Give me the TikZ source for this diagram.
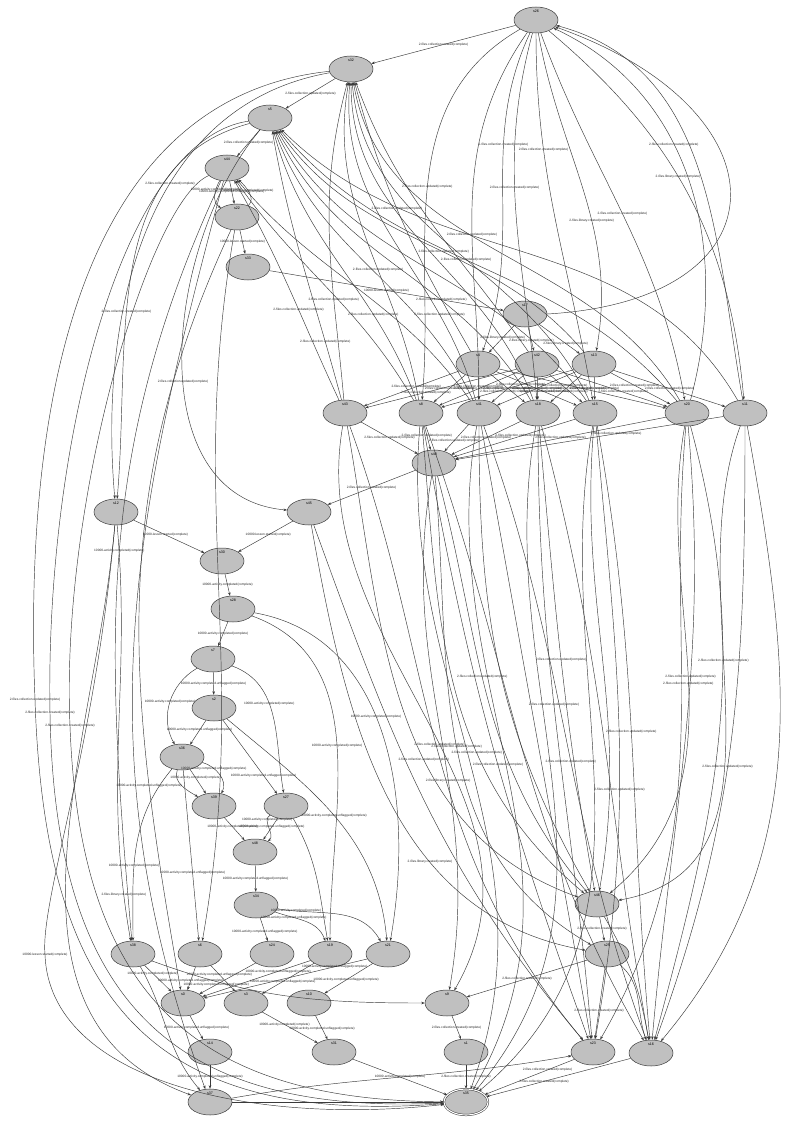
\documentclass[tikz,border=0pt]{standalone}
\usepackage{fontspec}
\setmainfont{Liberation Sans}
\usepackage{tikz}
\usetikzlibrary{arrows.meta,shapes.geometric}
\definecolor{stFill}{HTML}{C0C0C0}
\definecolor{stLine}{HTML}{3A3A3A}
\newcommand{\lcc}{2-files.collection.created(complete)}
\newcommand{\lcu}{2-files.collection.updated(complete)}
\newcommand{\llc}{2-files.library.created(complete)}
\newcommand{\lls}{10000-lesson.started(complete)}
\newcommand{\lac}{10000-activity.completed(complete)}
\newcommand{\lau}{10000-activity.completed.unflagged(complete)}
\tikzset{
  nlab/.style={anchor=north,yshift=-2.5pt,inner sep=0.4pt,font=\fontsize{3.6}{4}\selectfont},
  st/.style={ellipse,draw=stLine,line width=0.5pt,fill=stFill,minimum width=44pt,
    minimum height=26pt,inner sep=0pt,label={[nlab]north:#1}},
  fin/.style={st=#1,double,double distance=1.1pt},
  e/.style={draw=stLine,line width=0.45pt,-{Stealth[length=3.5pt,width=2.6pt]}},
  lbl/.style={font=\fontsize{3.2}{3.6}\selectfont,inner sep=0.3pt,text=black!85}
}
\begin{document}
\begin{tikzpicture}[x=1pt,y=-1pt]
\fill[white] (0,0) rectangle (805,1126);
\useasboundingbox (0,0) rectangle (805,1126);
\node[st=s26] (s26) at (536,20) {};
\node[st=s32] (s32) at (351,69) {};
\node[st=s5] (s5) at (270,118) {};
\node[st=s44] (s44) at (227,168) {};
\node[st=s22] (s22) at (237,217) {};
\node[st=s33] (s33) at (248,267) {};
\node[st=s17] (s17) at (525,314) {};
\node[st=s4] (s4) at (478,364) {};
\node[st=s42] (s42) at (537,364) {};
\node[st=s13] (s13) at (594,364) {};
\node[st=s43] (s43) at (345,413) {};
\node[st=s8] (s8) at (421,413) {};
\node[st=s41] (s41) at (479,413) {};
\node[st=s18] (s18) at (538,413) {};
\node[st=s15] (s15) at (595,413) {};
\node[st=s20] (s20) at (687,413) {};
\node[st=s11] (s11) at (745,413) {};
\node[st=s40] (s40) at (434,463) {};
\node[st=s12] (s12) at (116,512) {};
\node[st=s45] (s45) at (309,512) {};
\node[st=s30] (s30) at (222,561) {};
\node[st=s28] (s28) at (233,609) {};
\node[st=s7] (s7) at (213,659) {};
\node[st=s2] (s2) at (214,708) {};
\node[st=s36] (s36) at (182,757) {};
\node[st=s39] (s39) at (214,806) {};
\node[st=s27] (s27) at (286,806) {};
\node[st=s48] (s48) at (255,852) {};
\node[st=s34] (s34) at (256,905) {};
\node[st=s46] (s46) at (597,904) {};
\node[st=s38] (s38) at (133,954) {};
\node[st=s6] (s6) at (200,954) {};
\node[st=s24] (s24) at (272,954) {};
\node[st=s19] (s19) at (330,954) {};
\node[st=s21] (s21) at (388,954) {};
\node[st=s25] (s25) at (607,954) {};
\node[st=s0] (s0) at (183,1003) {};
\node[st=s3] (s3) at (246,1003) {};
\node[st=s10] (s10) at (309,1003) {};
\node[st=s9] (s9) at (447,1003) {};
\node[st=s14] (s14) at (210,1052) {};
\node[st=s31] (s31) at (334,1052) {};
\node[st=s1] (s1) at (466,1052) {};
\node[st=s23] (s23) at (593,1052) {};
\node[st=s16] (s16) at (651,1053) {};
\node[st=s37] (s37) at (210,1102) {};
\node[fin=s35] (s35) at (466,1102) {};
% top part
\draw[e] (s26) -- node[lbl]{\lcc} (s32);
\draw[e] (s32) -- node[lbl]{\lcu} (s5);
\draw[e] (s5) -- node[lbl]{\lcc} (s44);
\draw[e] (s44) -- node[lbl,pos=.45]{\lau} (s22);
\draw[e] (s44) to[out=-120,in=150] node[lbl,pos=.3]{\lac} (s22);
\draw[e] (s22) to[out=45,in=-45] node[lbl,pos=.55]{\lac} (s44);
\draw[e] (s22) -- node[lbl]{\lls} (s33);
\draw[e] (s33) -- node[lbl]{\lls} (s17);
\draw[e] (s26) to[out=-150,in=85] node[lbl,pos=.5]{\lcu} (s8);
\draw[e] (s26) to[out=-125,in=90] node[lbl,pos=.58]{\lcu} (s41);
\draw[e] (s26) to[out=-105,in=95] node[lbl,pos=.42]{\lcc} (s18);
\draw[e] (s26) to[out=-90,in=100] node[lbl,pos=.3]{\lcc} (s15);
\draw[e] (s26) to[out=-70,in=100] node[lbl,pos=.5]{\lcc} (s20);
\draw[e] (s26) to[out=-40,in=95] node[lbl,pos=.45]{\llc} (s11);
\draw[e] (s26) to[out=-115,in=70] node[lbl,pos=.35]{\lcc} (s4);
\draw[e] (s26) to[out=-80,in=80] node[lbl,pos=.6]{\llc} (s13);
\draw[e] (s17.east) .. controls (790,300) and (790,110) .. (s26);
\draw[e] (s20) to[out=75,in=-25] node[lbl,pos=.6]{\lcc} (s26);
\draw[e] (s11) to[out=100,in=-15] (s26);
% back to s32, s5, s44
\draw[e] (s43) to[out=95,in=-105] node[lbl,pos=.3]{\lcu} (s32);
\draw[e] (s8) to[out=100,in=-100] node[lbl,pos=.4]{\lcu} (s32);
\draw[e] (s41) to[out=105,in=-95] node[lbl,pos=.25]{\lcu} (s32);
\draw[e] (s18) to[out=110,in=-90] (s32);
\draw[e] (s15) to[out=115,in=-85] node[lbl,pos=.45]{\lcu} (s32);
\draw[e] (s20) to[out=120,in=-80] (s32);
\draw[e] (s4) to[out=120,in=-75] node[lbl,pos=.55]{\lcu} (s32);
\draw[e] (s42) to[out=125,in=-70] (s32);
\draw[e] (s43) to[out=105,in=-80] node[lbl,pos=.2]{\lcu} (s5);
\draw[e] (s8) to[out=110,in=-75] node[lbl,pos=.3]{\lcu} (s5);
\draw[e] (s41) to[out=115,in=-70] (s5);
\draw[e] (s18) to[out=120,in=-65] node[lbl,pos=.35]{\lcu} (s5);
\draw[e] (s15) to[out=125,in=-60] (s5);
\draw[e] (s13) to[out=130,in=-55] node[lbl,pos=.45]{\lcu} (s5);
\draw[e] (s20) to[out=130,in=-50] (s5);
\draw[e] (s11) to[out=120,in=-45] (s5);
\draw[e] (s43) to[out=115,in=-60] node[lbl,pos=.4]{\lcu} (s44);
\draw[e] (s8) to[out=120,in=-55] (s44);
\draw[e] (s41) to[out=125,in=-50] (s44);
% left side
\draw[e] (s32) to[out=-170,in=95] node[lbl,pos=.4]{\lcc} (s12);
\draw[e] (s5) to[out=-165,in=85] node[lbl,pos=.6]{\lcc} (s12);
\draw[e] (s32) .. controls (60,100) and (25,450) .. (35,700) node[lbl]{\lcu} .. controls (45,1000) and (150,1126) .. (s35);
\draw[e] (s5) .. controls (120,140) and (45,450) .. (50,713) node[lbl]{\lcc} .. controls (55,1010) and (180,1115) .. (s35);
\draw[e] (s44) .. controls (150,200) and (60,500) .. (70,726) node[lbl]{\lcc} .. controls (80,1000) and (200,1100) .. (s35);
\draw[e] (s44) to[out=-115,in=95] node[lbl,pos=.5]{\lac} (s38);
\draw[e] (s44) to[out=-105,in=110] (s37);
\draw[e] (s22) to[out=-115,in=100] node[lbl,pos=.75]{\lau} (s0);
\draw[e] (s22) to[out=-100,in=80] (s6);
\draw[e] (s12) .. controls (95,750) and (40,900) .. (45,955) node[lbl]{\lls} .. controls (50,1080) and (250,1126) .. (s35);
\draw[e] (s12) to[out=-95,in=160] (s37);
\draw[e] (s12) to[out=-85,in=100] node[lbl,pos=.9]{\llc} (s38);
\draw[e] (s5) to[out=-130,in=175] node[lbl,pos=.55]{\lcu} (s45);
% middle block
\draw[e] (s17) -- node[lbl,pos=.45]{\llc} (s4);
\draw[e] (s17) -- node[lbl,pos=.55]{\llc} (s42);
\draw[e] (s17) -- node[lbl,pos=.65]{\llc} (s13);
\draw[e] (s4) -- node[lbl,pos=.45]{\lcc} (s43);
\draw[e] (s4) -- node[lbl,pos=.5]{\lcc} (s8);
\draw[e] (s4) -- node[lbl,pos=.4]{\lcc} (s41);
\draw[e] (s4) -- node[lbl,pos=.5]{\lcc} (s18);
\draw[e] (s4) -- node[lbl,pos=.6]{\lcc} (s15);
\draw[e] (s4) -- node[lbl,pos=.5]{\lcc} (s20);
\draw[e] (s42) -- node[lbl,pos=.6]{\lcc} (s43);
\draw[e] (s42) -- node[lbl,pos=.5]{\lcc} (s8);
\draw[e] (s42) -- node[lbl,pos=.6]{\lcc} (s41);
\draw[e] (s42) -- node[lbl,pos=.5]{\lcc} (s18);
\draw[e] (s42) -- node[lbl,pos=.4]{\lcc} (s15);
\draw[e] (s42) -- node[lbl,pos=.6]{\lcc} (s20);
\draw[e] (s13) -- node[lbl,pos=.4]{\lcc} (s8);
\draw[e] (s13) -- node[lbl,pos=.5]{\lcc} (s41);
\draw[e] (s13) -- node[lbl,pos=.6]{\lcc} (s18);
\draw[e] (s13) -- node[lbl,pos=.5]{\lcc} (s15);
\draw[e] (s13) -- node[lbl,pos=.4]{\lcc} (s20);
\draw[e] (s13) -- node[lbl,pos=.5]{\lcc} (s11);
\draw[e] (s43) -- node[lbl]{\lcu} (s40);
\draw[e] (s8) -- node[lbl,pos=.4]{\lcu} (s40);
\draw[e] (s41) -- node[lbl,pos=.6]{\lcu} (s40);
\draw[e] (s18) -- node[lbl,pos=.5]{\lcu} (s40);
\draw[e] (s15) -- node[lbl,pos=.45]{\lcu} (s40);
\draw[e] (s20) -- node[lbl,pos=.5]{\lcu} (s40);
\draw[e] (s11) -- node[lbl,pos=.4]{\lcu} (s40);
\draw[e] (s40) -- node[lbl]{\lcc} (s45);
% activity chain
\draw[e] (s12) -- node[lbl,pos=.45]{\lls} (s30);
\draw[e] (s45) -- node[lbl,pos=.45]{\lls} (s30);
\draw[e] (s30) -- node[lbl]{\lac} (s28);
\draw[e] (s28) -- node[lbl]{\lac} (s7);
\draw[e] (s7) -- node[lbl]{\lau} (s2);
\draw[e] (s2) -- node[lbl,pos=.4]{\lau} (s36);
\draw[e] (s7) to[out=-150,in=120] node[lbl,pos=.5]{\lac} (s36);
\draw[e] (s7) to[out=-20,in=100] node[lbl,pos=.4]{\lac} (s27);
\draw[e] (s2) -- node[lbl,pos=.75]{\lau} (s27);
\draw[e] (s36) -- node[lbl,pos=.35]{\lac} (s39);
\draw[e] (s36) to[out=-15,in=60] node[lbl,pos=.3]{\lau} (s39);
\draw[e] (s36) to[out=-110,in=150] (s39);
\draw[e] (s39) -- node[lbl,pos=.4]{\lac} (s48);
\draw[e] (s27) -- node[lbl,pos=.4]{\lau} (s48);
\draw[e] (s27) to[out=-150,in=40] node[lbl,pos=.2]{\lac} (s48);
\draw[e] (s48) -- node[lbl]{\lau} (s34);
\draw[e] (s34) -- node[lbl,pos=.6]{\lau} (s24);
\draw[e] (s34) to[out=-20,in=110] node[lbl,pos=.3]{\lau} (s19);
\draw[e] (s34) to[out=-10,in=120] node[lbl,pos=.15]{\lac} (s21);
\draw[e] (s28) to[out=-20,in=90] node[lbl,pos=.5]{\lac} (s19);
\draw[e] (s28) to[out=-10,in=80] node[lbl,pos=.45]{\lac} (s21);
\draw[e] (s2) to[out=-40,in=95] node[lbl,pos=.5]{\lau} (s21);
\draw[e] (s27) to[out=-60,in=100] (s19);
\draw[e] (s36) -- node[lbl,pos=.6]{\lau} (s6);
\draw[e] (s36) to[out=-130,in=90] node[lbl,pos=.6]{\lac} (s38);
\draw[e] (s38) -- node[lbl,pos=.3]{\lac} (s0);
\draw[e] (s6) -- node[lbl,pos=.6]{\lau} (s0);
\draw[e] (s6) -- node[lbl,pos=.35]{\lau} (s3);
\draw[e] (s24) -- node[lbl,pos=.7]{\lau} (s0);
\draw[e] (s19) -- node[lbl,pos=.3]{\lau} (s0);
\draw[e] (s19) -- node[lbl,pos=.6]{\lau} (s3);
\draw[e] (s21) -- node[lbl,pos=.2]{\lau} (s0);
\draw[e] (s21) -- node[lbl,pos=.55]{\lau} (s10);
\draw[e] (s0) -- node[lbl]{\lau} (s14);
\draw[e] (s3) -- node[lbl,pos=.4]{\lac} (s31);
\draw[e] (s10) -- node[lbl,pos=.55]{\lau} (s31);
\draw[e] (s14) -- node[lbl]{\lau} (s37);
\draw[e] (s31) -- node[lbl]{\lac} (s35);
\draw[e] (s37) -- (s35);
\draw[e] (s38) to[out=-60,in=130] (s37);
\draw[e] (s38) to[out=-20,in=180] (s9);
\draw[e] (s37) to[out=10,in=190] (s23);
% lower right
\draw[e] (s9) -- node[lbl]{\lcc} (s1);
\draw[e] (s1) -- node[lbl]{\lcc} (s35);
\draw[e] (s46) -- node[lbl]{\lcc} (s25);
\draw[e] (s25) -- node[lbl]{\lcc} (s9);
\draw[e] (s25) -- node[lbl,pos=.6]{\lcc} (s23);
\draw[e] (s25) to[out=-40,in=110] (s16);
\draw[e] (s46) to[out=-60,in=100] (s16);
\draw[e] (s23) -- node[lbl,pos=.3]{\lcc} (s35);
\draw[e] (s16) -- node[lbl,pos=.6]{\lcc} (s35);
% long edges down
\draw[e] (s43) to[out=-80,in=160] node[lbl,pos=.6]{\lcu} (s46);
\draw[e] (s8) to[out=-85,in=140] node[lbl,pos=.65]{\lcu} (s46);
\draw[e] (s41) to[out=-90,in=120] (s46);
\draw[e] (s18) to[out=-85,in=100] node[lbl,pos=.5]{\lcu} (s46);
\draw[e] (s15) to[out=-95,in=80] (s46);
\draw[e] (s40) to[out=-75,in=130] node[lbl,pos=.45]{\lcu} (s46);
\draw[e] (s20) to[out=-100,in=40] node[lbl,pos=.5]{\lcu} (s46);
\draw[e] (s11) to[out=-110,in=10] node[lbl,pos=.4]{\lcu} (s46);
\draw[e] (s8) to[out=-80,in=110] node[lbl,pos=.55]{\lcu} (s23);
\draw[e] (s41) to[out=-80,in=100] (s23);
\draw[e] (s18) to[out=-90,in=95] node[lbl,pos=.45]{\lcu} (s23);
\draw[e] (s15) to[out=-85,in=80] node[lbl,pos=.6]{\lcu} (s23);
\draw[e] (s20) to[out=-95,in=60] (s23);
\draw[e] (s43) to[out=-70,in=130] (s23);
\draw[e] (s41) to[out=-70,in=110] node[lbl,pos=.55]{\lcu} (s16);
\draw[e] (s18) to[out=-75,in=100] (s16);
\draw[e] (s15) to[out=-80,in=95] node[lbl,pos=.5]{\lcu} (s16);
\draw[e] (s20) to[out=-85,in=85] node[lbl,pos=.4]{\lcu} (s16);
\draw[e] (s11) to[out=-90,in=70] node[lbl,pos=.55]{\lcu} (s16);
\draw[e] (s11) to[out=-80,in=50] (s16);
\draw[e] (s20) to[out=-75,in=75] (s16);
\draw[e] (s8) to[out=-70,in=120] (s16);
\draw[e] (s8) to[out=-95,in=70] (s35);
\draw[e] (s41) to[out=-100,in=60] (s35);
\draw[e] (s18) to[out=-100,in=50] (s35);
\draw[e] (s15) to[out=-100,in=40] (s35);
\draw[e] (s40) to[out=-100,in=80] node[lbl,pos=.6]{\llc} (s9);
\draw[e] (s40) to[out=-85,in=150] node[lbl,pos=.5]{\lcu} (s25);
\draw[e] (s45) to[out=-80,in=170] node[lbl,pos=.65]{\llc} (s25);
\draw[e] (s45) to[out=-70,in=130] (s23);
\draw[e] (s43) to[out=-100,in=60] node[lbl,pos=.55]{\lcu} (s9);
\end{tikzpicture}
\end{document}
